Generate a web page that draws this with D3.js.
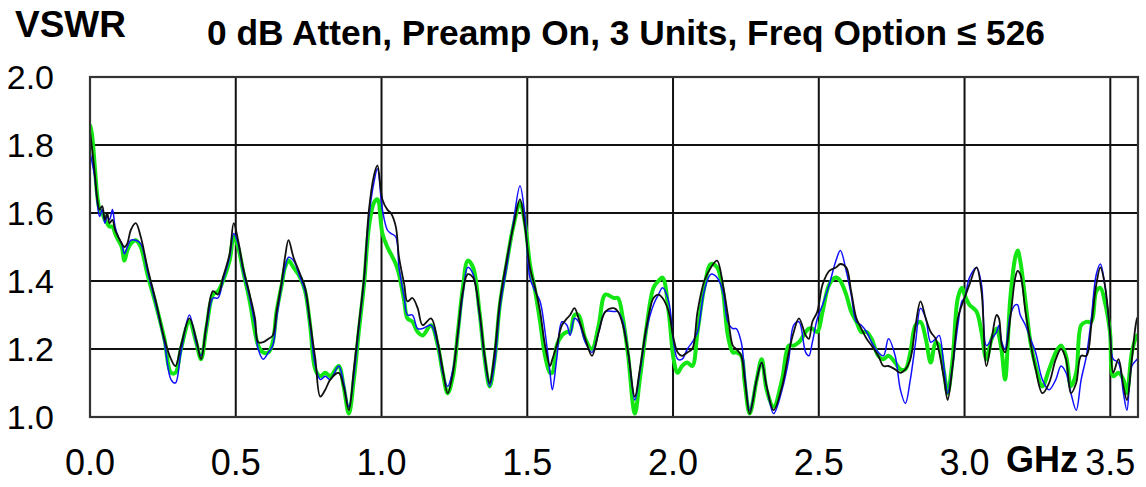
<!DOCTYPE html>
<html>
<head>
<meta charset="utf-8">
<script src="https://cdn.jsdelivr.net/npm/d3@7"></script>
<style>
  html, body { margin: 0; padding: 0; background: #fff; }
  svg { display: block; font-family: Arial, 'Liberation Sans', sans-serif; }
</style>
</head>
<body>
<div id="chart"></div>
<script>
// Frequency points (GHz) shared by all three units
const freqs = [
  0.000, 0.007, 0.017, 0.025, 0.033, 0.042, 0.051, 0.059, 0.067, 0.077,
  0.086, 0.097, 0.109, 0.118, 0.128, 0.140, 0.157, 0.174, 0.197, 0.226,
  0.255, 0.278, 0.293, 0.312, 0.341, 0.364, 0.381, 0.399, 0.422, 0.439,
  0.456, 0.479, 0.493, 0.508, 0.525, 0.548, 0.566, 0.577, 0.594, 0.612,
  0.627, 0.640, 0.658, 0.669, 0.681, 0.698, 0.721, 0.738, 0.755, 0.773,
  0.790, 0.807, 0.824, 0.853, 0.870, 0.888, 0.905, 0.922, 0.940, 0.957,
  0.974, 0.986, 1.003, 1.020, 1.032, 1.049, 1.060, 1.078, 1.089, 1.106,
  1.124, 1.141, 1.170, 1.193, 1.210, 1.227, 1.245, 1.262, 1.279, 1.296,
  1.314, 1.336, 1.354, 1.371, 1.388, 1.406, 1.429, 1.452, 1.475, 1.492,
  1.509, 1.527, 1.544, 1.561, 1.578, 1.586, 1.601, 1.619, 1.636, 1.647,
  1.662, 1.676, 1.699, 1.722, 1.745, 1.768, 1.797,
  1.811, 1.828, 1.846, 1.869, 1.886, 1.910, 1.933, 1.950, 1.964, 1.985,
  2.002, 2.016, 2.031, 2.049, 2.066, 2.084, 2.107, 2.130, 2.151, 2.171,
  2.188, 2.205, 2.217, 2.234, 2.246, 2.263, 2.287, 2.304, 2.321, 2.345,
  2.374, 2.397, 2.414, 2.432, 2.455, 2.466, 2.478, 2.495, 2.513, 2.536,
  2.559, 2.574, 2.594, 2.611, 2.629, 2.646, 2.664, 2.681, 2.704, 2.722,
  2.739, 2.762, 2.780, 2.797, 2.814, 2.832, 2.849, 2.867, 2.884, 2.901,
  2.913, 2.930, 2.942, 2.959, 2.977, 2.991, 3.000, 3.017, 3.041, 3.058,
  3.075, 3.093, 3.110, 3.118, 3.128, 3.139, 3.157, 3.174, 3.182, 3.191,
  3.209, 3.226, 3.244, 3.267, 3.290, 3.313, 3.331, 3.348, 3.365, 3.383,
  3.400, 3.418, 3.435, 3.452, 3.466, 3.481, 3.499, 3.510, 3.528, 3.545,
  3.557, 3.574, 3.592, 3.600
];

// VSWR, unit 1 (black trace)
const unitBlack = [
  1.84, 1.79, 1.71, 1.64, 1.61, 1.62, 1.58, 1.60, 1.57, 1.58,
  1.55, 1.53, 1.51, 1.50, 1.51, 1.55, 1.57, 1.53, 1.44, 1.34,
  1.23, 1.17, 1.15, 1.21, 1.29, 1.23, 1.17, 1.27, 1.37, 1.36,
  1.41, 1.48, 1.57, 1.52, 1.44, 1.36, 1.29, 1.22, 1.22, 1.23,
  1.24, 1.31, 1.40, 1.47, 1.52, 1.47, 1.42, 1.38, 1.28, 1.17,
  1.06, 1.08, 1.11, 1.13, 1.09, 1.02, 1.14, 1.27, 1.41, 1.61,
  1.71, 1.74, 1.64, 1.61, 1.60, 1.56, 1.47, 1.39, 1.34, 1.35,
  1.32, 1.27, 1.29, 1.22, 1.14, 1.07, 1.13, 1.25, 1.37, 1.42,
  1.41, 1.31, 1.18, 1.10, 1.19, 1.34, 1.46, 1.56, 1.64, 1.56,
  1.44, 1.38, 1.31, 1.21, 1.15, 1.17, 1.21, 1.27, 1.29, 1.30,
  1.32, 1.29, 1.23, 1.18, 1.25, 1.31, 1.32,
  1.31, 1.27, 1.19, 1.06, 1.14, 1.27, 1.35, 1.36, 1.35, 1.31,
  1.23, 1.19, 1.18, 1.19, 1.20, 1.31, 1.40, 1.44, 1.46, 1.39,
  1.30, 1.21, 1.20, 1.18, 1.11, 1.01, 1.11, 1.16, 1.09, 1.02,
  1.09, 1.19, 1.25, 1.29, 1.24, 1.23, 1.28, 1.31, 1.39, 1.43,
  1.44, 1.45, 1.44, 1.37, 1.29, 1.26, 1.23, 1.21, 1.18, 1.15,
  1.15, 1.14, 1.13, 1.14, 1.17, 1.27, 1.34, 1.29, 1.25, 1.23,
  1.19, 1.11, 1.05, 1.15, 1.29, 1.33, 1.35, 1.39, 1.44, 1.37,
  1.15, 1.23, 1.30, 1.29, 1.21, 1.19, 1.29, 1.41, 1.43, 1.42,
  1.31, 1.22, 1.14, 1.07, 1.10, 1.17, 1.20, 1.17, 1.07, 1.10,
  1.18, 1.18, 1.27, 1.39, 1.44, 1.39, 1.25, 1.13, 1.17, 1.09,
  1.05, 1.17, 1.29, 1.30
];

// VSWR, unit 2 (green trace)
const unitGreen = [
  1.86, 1.83, 1.73, 1.65, 1.61, 1.60, 1.58, 1.57, 1.56, 1.56,
  1.54, 1.52, 1.50, 1.46, 1.49, 1.51, 1.52, 1.50, 1.42, 1.33,
  1.23, 1.13, 1.13, 1.20, 1.28, 1.22, 1.17, 1.26, 1.36, 1.37,
  1.40, 1.46, 1.53, 1.50, 1.43, 1.34, 1.25, 1.21, 1.19, 1.19,
  1.22, 1.31, 1.39, 1.44, 1.46, 1.44, 1.41, 1.37, 1.27, 1.14,
  1.12, 1.13, 1.12, 1.15, 1.09, 1.01, 1.11, 1.25, 1.39, 1.56,
  1.63, 1.64, 1.54, 1.50, 1.48, 1.45, 1.42, 1.34, 1.29, 1.28,
  1.25, 1.24, 1.27, 1.21, 1.13, 1.07, 1.12, 1.25, 1.38, 1.46,
  1.44, 1.31, 1.17, 1.09, 1.17, 1.33, 1.45, 1.56, 1.63, 1.57,
  1.45, 1.37, 1.28, 1.18, 1.13, 1.13, 1.21, 1.24, 1.25, 1.25,
  1.30, 1.30, 1.23, 1.20, 1.27, 1.36, 1.35,
  1.35, 1.29, 1.18, 1.01, 1.11, 1.27, 1.38, 1.40, 1.41, 1.31,
  1.17, 1.13, 1.15, 1.16, 1.15, 1.25, 1.38, 1.45, 1.44, 1.37,
  1.24, 1.19, 1.19, 1.18, 1.10, 1.01, 1.11, 1.17, 1.08, 1.03,
  1.11, 1.21, 1.21, 1.22, 1.25, 1.26, 1.26, 1.25, 1.31, 1.39,
  1.41, 1.40, 1.36, 1.31, 1.28, 1.25, 1.25, 1.23, 1.18, 1.17,
  1.18, 1.16, 1.14, 1.14, 1.19, 1.27, 1.28, 1.23, 1.16, 1.22,
  1.21, 1.13, 1.07, 1.17, 1.35, 1.38, 1.36, 1.33, 1.31, 1.25,
  1.17, 1.23, 1.26, 1.24, 1.19, 1.11, 1.35, 1.47, 1.49, 1.46,
  1.34, 1.22, 1.15, 1.09, 1.14, 1.19, 1.21, 1.18, 1.09, 1.13,
  1.27, 1.28, 1.28, 1.37, 1.38, 1.34, 1.25, 1.12, 1.13, 1.11,
  1.07, 1.19, 1.24, 1.24
];

// VSWR, unit 3 (blue trace)
const unitBlue = [
  1.78, 1.75, 1.70, 1.63, 1.59, 1.61, 1.57, 1.59, 1.58, 1.61,
  1.56, 1.53, 1.51, 1.48, 1.50, 1.52, 1.52, 1.51, 1.43, 1.33,
  1.22, 1.11, 1.10, 1.19, 1.30, 1.22, 1.18, 1.26, 1.35, 1.35,
  1.40, 1.47, 1.54, 1.51, 1.43, 1.35, 1.27, 1.20, 1.17, 1.19,
  1.21, 1.29, 1.39, 1.44, 1.47, 1.46, 1.41, 1.37, 1.27, 1.15,
  1.11, 1.12, 1.11, 1.15, 1.10, 1.03, 1.12, 1.26, 1.40, 1.59,
  1.69, 1.73, 1.61, 1.55, 1.54, 1.53, 1.44, 1.35, 1.30, 1.30,
  1.26, 1.26, 1.27, 1.21, 1.13, 1.09, 1.14, 1.24, 1.36, 1.44,
  1.42, 1.30, 1.17, 1.09, 1.16, 1.32, 1.44, 1.57, 1.68, 1.59,
  1.41, 1.37, 1.34, 1.25, 1.13, 1.08, 1.17, 1.28, 1.27, 1.24,
  1.29, 1.28, 1.22, 1.19, 1.25, 1.31, 1.31,
  1.31, 1.28, 1.19, 1.05, 1.13, 1.26, 1.33, 1.36, 1.38, 1.34,
  1.22, 1.17, 1.17, 1.20, 1.22, 1.25, 1.37, 1.42, 1.41, 1.37,
  1.28, 1.26, 1.26, 1.22, 1.13, 1.02, 1.11, 1.16, 1.09, 1.01,
  1.08, 1.17, 1.27, 1.28, 1.19, 1.18, 1.22, 1.29, 1.33, 1.39,
  1.46, 1.49, 1.43, 1.36, 1.28, 1.27, 1.25, 1.22, 1.19, 1.18,
  1.23, 1.18, 1.08, 1.04, 1.11, 1.22, 1.32, 1.29, 1.22, 1.23,
  1.24, 1.14, 1.07, 1.15, 1.27, 1.34, 1.35, 1.41, 1.44, 1.39,
  1.21, 1.23, 1.25, 1.27, 1.22, 1.20, 1.30, 1.33, 1.33, 1.30,
  1.27, 1.23, 1.19, 1.11, 1.08, 1.11, 1.15, 1.13, 1.07, 1.02,
  1.11, 1.18, 1.29, 1.42, 1.45, 1.39, 1.25, 1.17, 1.16, 1.07,
  1.02, 1.15, 1.17, 1.18
];

const xTicks = [0, 0.5, 1.0, 1.5, 2.0, 2.5, 3.0, 3.5];
const yTicks = [1.0, 1.2, 1.4, 1.6, 1.8, 2.0];
const titleText = '0 dB Atten, Preamp On, 3 Units, Freq Option \u2264 526';

const width = 1146;
const height = 487;

const plot = { left: 90, right: 1138, top: 77, bottom: 417 };

const svg = d3
  .select('#chart')
  .append('svg')
  .attr('width', width)
  .attr('height', height);

svg.append('rect').attr('width', width).attr('height', height).attr('fill', '#fff');

const x = d3.scaleLinear().domain([0, 3.595]).range([plot.left, plot.right]);
const y = d3.scaleLinear().domain([1.0, 2.0]).range([plot.bottom, plot.top]);

// Grid lines
const grid = svg.append('g').attr('stroke', '#111').attr('stroke-width', 2);
grid
  .selectAll('.vgrid')
  .data(xTicks.slice(1))
  .join('line')
  .attr('x1', (d) => x(d))
  .attr('x2', (d) => x(d))
  .attr('y1', plot.top)
  .attr('y2', plot.bottom);
grid
  .selectAll('.hgrid')
  .data(yTicks.slice(1, -1))
  .join('line')
  .attr('x1', plot.left)
  .attr('x2', plot.right)
  .attr('y1', (d) => y(d))
  .attr('y2', (d) => y(d));

// Traces
svg
  .append('clipPath')
  .attr('id', 'plot-clip')
  .append('rect')
  .attr('x', plot.left)
  .attr('y', plot.top - 2)
  .attr('width', plot.right - plot.left)
  .attr('height', plot.bottom - plot.top + 2);

const line = d3
  .line()
  .x((d) => x(d[0]))
  .y((d) => y(d[1]))
  .curve(d3.curveCatmullRom.alpha(0.5));

const series = [
  { values: unitGreen, color: '#14e614', width: 4 },
  { values: unitBlue, color: '#1010ff', width: 1.5 },
  { values: unitBlack, color: '#111', width: 1.8 }
];

svg
  .append('g')
  .attr('clip-path', 'url(#plot-clip)')
  .selectAll('path')
  .data(series)
  .join('path')
  .attr('fill', 'none')
  .attr('stroke', (d) => d.color)
  .attr('stroke-width', (d) => d.width)
  .attr('stroke-linejoin', 'round')
  .attr('d', (d) => line(freqs.map((f, i) => [f, d.values[i]])));

// Frame
svg
  .append('rect')
  .attr('x', plot.left)
  .attr('y', plot.top)
  .attr('width', plot.right - plot.left)
  .attr('height', plot.bottom - plot.top)
  .attr('fill', 'none')
  .attr('stroke', '#333')
  .attr('stroke-width', 2.2);

// Axis labels
svg
  .append('g')
  .selectAll('text')
  .data(yTicks)
  .join('text')
  .attr('x', 54)
  .attr('y', (d) => y(d) + 12)
  .attr('text-anchor', 'end')
  .attr('font-size', 34)
  .attr('fill', '#000')
  .text((d) => d.toFixed(1));

svg
  .append('g')
  .selectAll('text')
  .data(xTicks)
  .join('text')
  .attr('x', (d) => x(d))
  .attr('y', 475)
  .attr('text-anchor', 'middle')
  .attr('font-size', 36)
  .attr('fill', '#000')
  .text((d) => d.toFixed(1));

svg
  .append('text')
  .attr('x', 1006)
  .attr('y', 472)
  .attr('font-size', 36)
  .attr('font-weight', 'bold')
  .text('GHz');

svg
  .append('text')
  .attr('x', 15)
  .attr('y', 37)
  .attr('font-size', 37)
  .attr('font-weight', 'bold')
  .text('VSWR');

svg
  .append('text')
  .attr('x', 207)
  .attr('y', 45)
  .attr('font-size', 35)
  .attr('font-weight', 'bold')
  .attr('textLength', 838)
  .attr('lengthAdjust', 'spacingAndGlyphs')
  .text(titleText);
</script>
</body>
</html>
